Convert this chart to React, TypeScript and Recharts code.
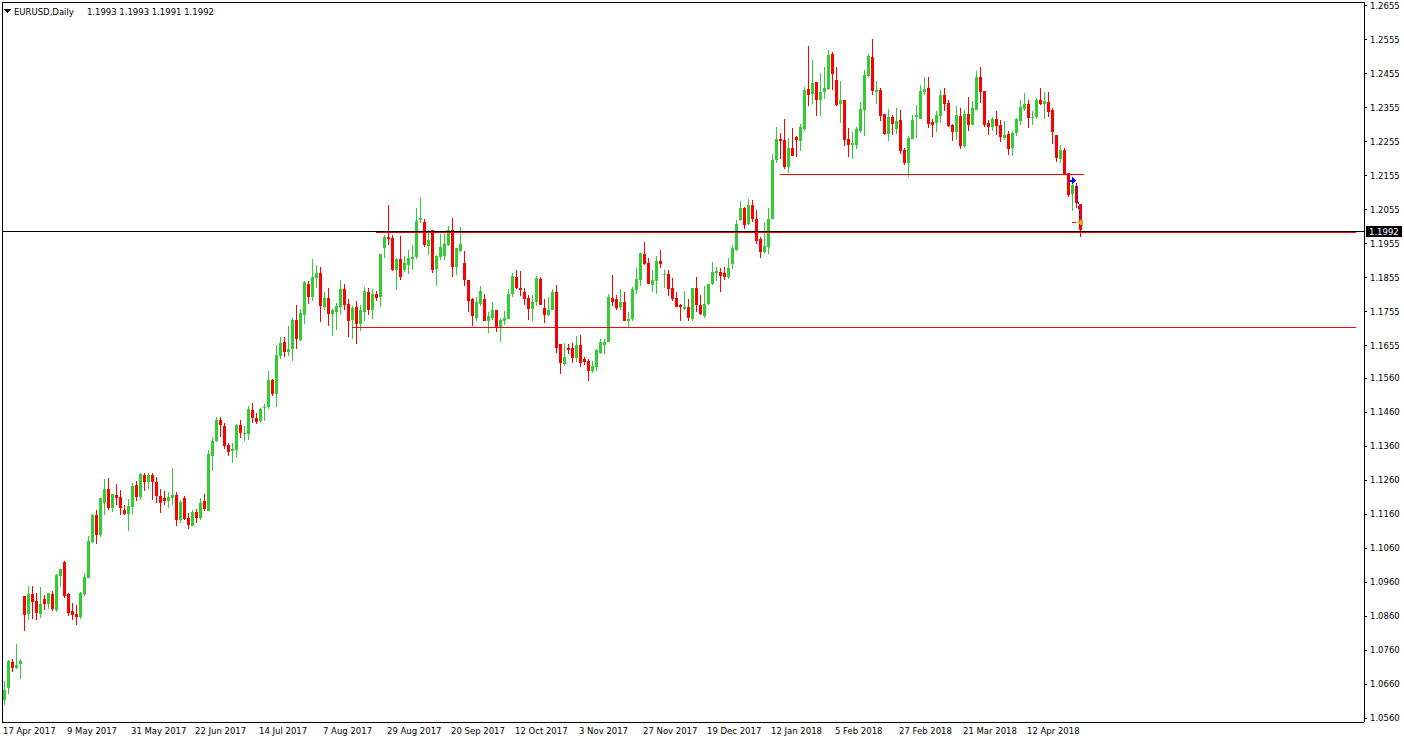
import { ComposedChart, Bar, XAxis, YAxis, ReferenceLine, ReferenceDot } from "recharts"

// open, high, low, close
type Ohlc = [number, number, number, number]

const apr2017: Ohlc[] = [
  [1.0612, 1.0668, 1.0597, 1.0641], [1.0647, 1.0732, 1.0632, 1.0729], [1.0726, 1.0735, 1.0694, 1.0706],
  [1.0706, 1.0777, 1.0703, 1.0715], [1.0718, 1.0735, 1.0676, 1.0729], [1.0918, 1.0918, 1.0815, 1.0862],
  [1.0865, 1.0947, 1.0847, 1.0924], [1.0924, 1.0947, 1.0850, 1.0900], [1.0903, 1.0929, 1.0847, 1.0868],
  [1.0865, 1.0944, 1.0853, 1.0894],
]
const may2017: Ohlc[] = [
  [1.0909, 1.0921, 1.0879, 1.0894], [1.0894, 1.0929, 1.0882, 1.0929], [1.0926, 1.0935, 1.0876, 1.0882],
  [1.0879, 1.0985, 1.0871, 1.0982], [1.0979, 1.0997, 1.0944, 1.0997], [1.1018, 1.1021, 1.0912, 1.0918],
  [1.0924, 1.0929, 1.0859, 1.0868], [1.0874, 1.0897, 1.0847, 1.0862], [1.0865, 1.0891, 1.0835, 1.0856],
  [1.0856, 1.0932, 1.0850, 1.0929], [1.0926, 1.0988, 1.0918, 1.0974], [1.0971, 1.1094, 1.0971, 1.1082],
  [1.1079, 1.1159, 1.1076, 1.1156], [1.1156, 1.1171, 1.1071, 1.1097], [1.1097, 1.1206, 1.1091, 1.1206],
  [1.1191, 1.1262, 1.1156, 1.1235], [1.1235, 1.1265, 1.1171, 1.1179], [1.1179, 1.1218, 1.1165, 1.1218],
  [1.1215, 1.1247, 1.1188, 1.1206], [1.1209, 1.1232, 1.1156, 1.1179], [1.1171, 1.1188, 1.1156, 1.1159],
  [1.1159, 1.1203, 1.1109, 1.1185], [1.1182, 1.1250, 1.1159, 1.1241],
]
const jun2017: Ohlc[] = [
  [1.1244, 1.1256, 1.1197, 1.1209], [1.1209, 1.1282, 1.1200, 1.1279], [1.1274, 1.1282, 1.1229, 1.1253],
  [1.1253, 1.1282, 1.1235, 1.1276], [1.1276, 1.1282, 1.1200, 1.1253], [1.1253, 1.1268, 1.1191, 1.1212],
  [1.1212, 1.1235, 1.1162, 1.1191], [1.1206, 1.1229, 1.1188, 1.1197], [1.1197, 1.1224, 1.1179, 1.1209],
  [1.1206, 1.1294, 1.1188, 1.1215], [1.1215, 1.1226, 1.1126, 1.1141], [1.1141, 1.1200, 1.1135, 1.1194],
  [1.1206, 1.1212, 1.1141, 1.1144], [1.1147, 1.1162, 1.1115, 1.1129], [1.1126, 1.1171, 1.1124, 1.1165],
  [1.1165, 1.1176, 1.1135, 1.1147], [1.1147, 1.1206, 1.1141, 1.1191], [1.1197, 1.1218, 1.1168, 1.1176],
  [1.1168, 1.1347, 1.1168, 1.1338], [1.1332, 1.1388, 1.1288, 1.1376], [1.1374, 1.1444, 1.1371, 1.1438],
  [1.1438, 1.1444, 1.1388, 1.1421],
]
const jul2017: Ohlc[] = [
  [1.1418, 1.1427, 1.1350, 1.1359], [1.1362, 1.1368, 1.1332, 1.1341], [1.1344, 1.1368, 1.1309, 1.1350],
  [1.1347, 1.1424, 1.1326, 1.1421], [1.1421, 1.1438, 1.1385, 1.1397], [1.1395, 1.1418, 1.1376, 1.1397],
  [1.1394, 1.1479, 1.1379, 1.1468], [1.1465, 1.1488, 1.1429, 1.1441], [1.1441, 1.1456, 1.1424, 1.1432],
  [1.1435, 1.1471, 1.1429, 1.1468], [1.1471, 1.1485, 1.1435, 1.1476], [1.1474, 1.1582, 1.1468, 1.1553],
  [1.1553, 1.1556, 1.1506, 1.1512], [1.1512, 1.1656, 1.1474, 1.1629], [1.1626, 1.1682, 1.1615, 1.1662],
  [1.1665, 1.1682, 1.1621, 1.1638], [1.1638, 1.1712, 1.1626, 1.1644], [1.1644, 1.1738, 1.1609, 1.1732],
  [1.1732, 1.1776, 1.1644, 1.1674], [1.1671, 1.1762, 1.1668, 1.1750], [1.1744, 1.1844, 1.1718, 1.1841],
]
const aug2017: Ohlc[] = [
  [1.1838, 1.1844, 1.1779, 1.1797], [1.1797, 1.1909, 1.1788, 1.1856], [1.1853, 1.1891, 1.1826, 1.1868],
  [1.1868, 1.1888, 1.1724, 1.1771], [1.1768, 1.1812, 1.1759, 1.1794], [1.1794, 1.1824, 1.1712, 1.1747],
  [1.1747, 1.1762, 1.1685, 1.1759], [1.1753, 1.1782, 1.1700, 1.1771], [1.1768, 1.1847, 1.1744, 1.1821],
  [1.1821, 1.1838, 1.1759, 1.1776], [1.1779, 1.1791, 1.1682, 1.1729], [1.1732, 1.1771, 1.1676, 1.1765],
  [1.1768, 1.1788, 1.1659, 1.1718], [1.1718, 1.1774, 1.1697, 1.1759], [1.1753, 1.1827, 1.1727, 1.1815],
  [1.1812, 1.1824, 1.1744, 1.1759], [1.1759, 1.1821, 1.1735, 1.1806], [1.1806, 1.1815, 1.1788, 1.1794],
  [1.1797, 1.1926, 1.1768, 1.1924], [1.1941, 1.1982, 1.1912, 1.1976], [1.1976, 1.2068, 1.1950, 1.1968],
  [1.1971, 1.1982, 1.1876, 1.1879], [1.1879, 1.1912, 1.1818, 1.1909],
]
const sep2017: Ohlc[] = [
  [1.1909, 1.1979, 1.1847, 1.1856], [1.1879, 1.1918, 1.1871, 1.1897], [1.1891, 1.1938, 1.1865, 1.1912],
  [1.1909, 1.1950, 1.1879, 1.1915], [1.1915, 1.2059, 1.1909, 1.2021], [1.2024, 1.2091, 1.2015, 1.2032],
  [1.2018, 1.2029, 1.1944, 1.1950], [1.1947, 1.1994, 1.1921, 1.1965], [1.1994, 1.1994, 1.1868, 1.1879],
  [1.1882, 1.1921, 1.1832, 1.1918], [1.1915, 1.1985, 1.1906, 1.1944], [1.1918, 1.1985, 1.1906, 1.1953],
  [1.1950, 1.2006, 1.1947, 1.1994], [1.1994, 1.2032, 1.1856, 1.1888], [1.1888, 1.1941, 1.1862, 1.1941],
  [1.1935, 1.2003, 1.1932, 1.1953], [1.1897, 1.1935, 1.1832, 1.1847], [1.1847, 1.1847, 1.1753, 1.1788],
  [1.1791, 1.1794, 1.1712, 1.1741], [1.1738, 1.1797, 1.1727, 1.1785], [1.1779, 1.1832, 1.1771, 1.1815],
]
const oct2017: Ohlc[] = [
  [1.1791, 1.1806, 1.1727, 1.1729], [1.1727, 1.1753, 1.1691, 1.1741], [1.1738, 1.1785, 1.1732, 1.1759],
  [1.1759, 1.1759, 1.1694, 1.1706], [1.1709, 1.1738, 1.1665, 1.1732], [1.1727, 1.1756, 1.1715, 1.1738],
  [1.1735, 1.1821, 1.1735, 1.1806], [1.1806, 1.1868, 1.1797, 1.1859], [1.1856, 1.1879, 1.1821, 1.1826],
  [1.1826, 1.1874, 1.1800, 1.1818], [1.1812, 1.1824, 1.1776, 1.1791], [1.1794, 1.1803, 1.1732, 1.1762],
  [1.1762, 1.1803, 1.1727, 1.1785], [1.1785, 1.1859, 1.1771, 1.1853], [1.1850, 1.1856, 1.1774, 1.1776],
  [1.1765, 1.1791, 1.1721, 1.1744], [1.1744, 1.1797, 1.1741, 1.1759], [1.1759, 1.1821, 1.1759, 1.1812],
  [1.1812, 1.1835, 1.1635, 1.1647], [1.1659, 1.1659, 1.1571, 1.1603], [1.1600, 1.1662, 1.1594, 1.1621],
  [1.1647, 1.1659, 1.1632, 1.1641],
]
const nov2017: Ohlc[] = [
  [1.1647, 1.1662, 1.1603, 1.1618], [1.1618, 1.1685, 1.1606, 1.1656], [1.1656, 1.1688, 1.1591, 1.1603],
  [1.1615, 1.1621, 1.1597, 1.1606], [1.1609, 1.1615, 1.1550, 1.1582], [1.1582, 1.1609, 1.1574, 1.1594],
  [1.1591, 1.1644, 1.1582, 1.1641], [1.1635, 1.1676, 1.1632, 1.1665], [1.1656, 1.1674, 1.1632, 1.1665],
  [1.1665, 1.1806, 1.1665, 1.1797], [1.1794, 1.1862, 1.1771, 1.1785], [1.1791, 1.1803, 1.1759, 1.1765],
  [1.1768, 1.1821, 1.1759, 1.1785], [1.1785, 1.1812, 1.1729, 1.1729], [1.1729, 1.1753, 1.1709, 1.1735],
  [1.1735, 1.1829, 1.1729, 1.1821], [1.1818, 1.1885, 1.1806, 1.1850], [1.1847, 1.1929, 1.1832, 1.1929],
  [1.1926, 1.1959, 1.1891, 1.1894], [1.1897, 1.1912, 1.1838, 1.1838], [1.1835, 1.1877, 1.1812, 1.1847],
  [1.1844, 1.1918, 1.1806, 1.1903],
]
const dec2017: Ohlc[] = [
  [1.1903, 1.1938, 1.1885, 1.1894], [1.1862, 1.1877, 1.1826, 1.1865], [1.1865, 1.1879, 1.1800, 1.1821],
  [1.1826, 1.1853, 1.1788, 1.1791], [1.1794, 1.1812, 1.1768, 1.1768], [1.1774, 1.1779, 1.1727, 1.1768],
  [1.1762, 1.1815, 1.1759, 1.1768], [1.1768, 1.1791, 1.1729, 1.1738], [1.1735, 1.1824, 1.1729, 1.1824],
  [1.1826, 1.1856, 1.1753, 1.1774], [1.1776, 1.1803, 1.1744, 1.1747], [1.1741, 1.1832, 1.1738, 1.1779],
  [1.1779, 1.1838, 1.1776, 1.1838], [1.1838, 1.1900, 1.1835, 1.1871], [1.1868, 1.1888, 1.1844, 1.1874],
  [1.1871, 1.1885, 1.1812, 1.1859], [1.1868, 1.1888, 1.1847, 1.1856], [1.1856, 1.1912, 1.1850, 1.1885],
  [1.1894, 1.1950, 1.1882, 1.1941], [1.1938, 1.2024, 1.1935, 1.2012],
]
const jan2018: Ohlc[] = [
  [1.2024, 1.2080, 1.2021, 1.2059], [1.2059, 1.2062, 1.1997, 1.2009], [1.2012, 1.2088, 1.2009, 1.2068],
  [1.2068, 1.2085, 1.2018, 1.2027], [1.2027, 1.2053, 1.1953, 1.1962], [1.1968, 1.1976, 1.1912, 1.1932],
  [1.1932, 1.2018, 1.1929, 1.1947], [1.1944, 1.2059, 1.1924, 1.2029], [1.2029, 1.2218, 1.2029, 1.2200],
  [1.2200, 1.2297, 1.2191, 1.2262], [1.2262, 1.2282, 1.2203, 1.2256], [1.2259, 1.2321, 1.2174, 1.2182],
  [1.2182, 1.2265, 1.2162, 1.2238], [1.2238, 1.2294, 1.2212, 1.2212], [1.2268, 1.2271, 1.2209, 1.2259],
  [1.2256, 1.2306, 1.2229, 1.2297], [1.2291, 1.2415, 1.2288, 1.2406], [1.2409, 1.2538, 1.2359, 1.2391],
  [1.2394, 1.2494, 1.2365, 1.2427], [1.2430, 1.2432, 1.2332, 1.2379], [1.2379, 1.2456, 1.2332, 1.2400],
  [1.2400, 1.2474, 1.2382, 1.2412],
]
const feb2018: Ohlc[] = [
  [1.2409, 1.2524, 1.2406, 1.2509], [1.2512, 1.2518, 1.2406, 1.2453], [1.2438, 1.2474, 1.2359, 1.2362],
  [1.2365, 1.2435, 1.2309, 1.2377], [1.2377, 1.2377, 1.2241, 1.2259], [1.2262, 1.2294, 1.2209, 1.2244],
  [1.2244, 1.2285, 1.2203, 1.2250], [1.2244, 1.2297, 1.2235, 1.2291], [1.2288, 1.2371, 1.2282, 1.2350],
  [1.2347, 1.2465, 1.2271, 1.2450], [1.2447, 1.2512, 1.2444, 1.2506], [1.2503, 1.2556, 1.2391, 1.2403],
  [1.2400, 1.2435, 1.2365, 1.2406], [1.2406, 1.2412, 1.2315, 1.2332], [1.2338, 1.2338, 1.2276, 1.2279],
  [1.2279, 1.2350, 1.2256, 1.2329], [1.2329, 1.2335, 1.2276, 1.2306], [1.2291, 1.2353, 1.2279, 1.2315],
  [1.2318, 1.2347, 1.2218, 1.2229], [1.2232, 1.2238, 1.2188, 1.2191],
]
const mar2018: Ohlc[] = [
  [1.2191, 1.2271, 1.2150, 1.2265], [1.2262, 1.2335, 1.2262, 1.2318], [1.2329, 1.2362, 1.2265, 1.2335],
  [1.2323, 1.2421, 1.2323, 1.2403], [1.2400, 1.2444, 1.2391, 1.2409], [1.2412, 1.2444, 1.2294, 1.2306],
  [1.2312, 1.2321, 1.2268, 1.2303], [1.2309, 1.2344, 1.2285, 1.2335], [1.2332, 1.2406, 1.2309, 1.2391],
  [1.2391, 1.2412, 1.2344, 1.2365], [1.2368, 1.2379, 1.2297, 1.2300], [1.2303, 1.2306, 1.2256, 1.2285],
  [1.2285, 1.2359, 1.2259, 1.2335], [1.2332, 1.2353, 1.2235, 1.2241], [1.2241, 1.2347, 1.2238, 1.2338],
  [1.2338, 1.2388, 1.2288, 1.2303], [1.2303, 1.2374, 1.2303, 1.2353], [1.2347, 1.2462, 1.2347, 1.2444],
  [1.2444, 1.2476, 1.2368, 1.2400], [1.2403, 1.2403, 1.2297, 1.2303], [1.2309, 1.2318, 1.2276, 1.2297],
  [1.2297, 1.2329, 1.2288, 1.2321],
]
const apr2018: Ohlc[] = [
  [1.2321, 1.2344, 1.2276, 1.2300], [1.2303, 1.2318, 1.2253, 1.2268], [1.2265, 1.2315, 1.2259, 1.2276],
  [1.2279, 1.2288, 1.2215, 1.2235], [1.2238, 1.2288, 1.2212, 1.2282], [1.2282, 1.2324, 1.2271, 1.2321],
  [1.2315, 1.2377, 1.2303, 1.2356], [1.2350, 1.2397, 1.2344, 1.2365], [1.2365, 1.2377, 1.2294, 1.2324],
  [1.2324, 1.2344, 1.2303, 1.2329], [1.2329, 1.2385, 1.2321, 1.2379], [1.2379, 1.2412, 1.2362, 1.2365],
  [1.2365, 1.2400, 1.2321, 1.2374], [1.2371, 1.2400, 1.2329, 1.2341], [1.2347, 1.2353, 1.2247, 1.2285],
  [1.2274, 1.2274, 1.2194, 1.2206], [1.2203, 1.2244, 1.2191, 1.2232], [1.2232, 1.2238, 1.2159, 1.2159],
  [1.2162, 1.2162, 1.2091, 1.2097], [1.2100, 1.2132, 1.2050, 1.2127], [1.2124, 1.2135, 1.2059, 1.2074],
]
const may2018: Ohlc[] = [
  [1.2071, 1.2071, 1.1976, 1.1994], [1.1993, 1.1993, 1.1991, 1.1992],
]

const candles: Ohlc[] = [
  ...apr2017, ...may2017, ...jun2017, ...jul2017, ...aug2017, ...sep2017, ...oct2017,
  ...nov2017, ...dec2017, ...jan2018, ...feb2018, ...mar2018, ...apr2018, ...may2018,
]

// one label every 16 bars
const dateLabels = [
  "17 Apr 2017", "9 May 2017", "31 May 2017", "22 Jun 2017", "14 Jul 2017", "7 Aug 2017",
  "29 Aug 2017", "20 Sep 2017", "12 Oct 2017", "3 Nov 2017", "27 Nov 2017", "19 Dec 2017",
  "12 Jan 2018", "5 Feb 2018", "27 Feb 2018", "21 Mar 2018", "12 Apr 2018",
]

const priceTicks = [
  1.2655, 1.2555, 1.2455, 1.2355, 1.2255, 1.2155, 1.2055, 1.1955, 1.1855, 1.1755, 1.1655,
  1.156, 1.146, 1.136, 1.126, 1.116, 1.106, 1.096, 1.086, 1.076, 1.066, 1.056,
]

const bid = 1.1992
const lastBar = [1.1993, 1.1993, 1.1991, 1.1992]

// horizontal lines drawn on the chart (bar index from / to)
const levels = [
  { price: 1.199, from: 93, to: 338, width: 2 },
  { price: 1.2159, from: 194, to: 270, width: 1 },
  { price: 1.1709, from: 87, to: 338, width: 1 },
]

// trade marks near the last bars
const tradeOpen = { bar: 267, price: 1.214 }
const tradeClose = { bar: 269, price: 1.2018 }

const SLOTS = 340 // visible bar slots incl. right shift
const BULL = "#32cd32"
const BEAR = "#ff0000"
const FONT = "DejaVu Sans"

const rows = Array.from({ length: SLOTS }, (_, i) => {
  const c = candles[i]
  if (!c) return { i }
  return { i, range: [c[2], c[1]], open: c[0], high: c[1], low: c[2], close: c[3] }
})

const Candle = (props: any) => {
  const { x, y, width, height, payload } = props
  if (!payload || payload.open == null) return null
  const { open, high, low, close } = payload
  const top = Math.min(y, y + height)
  const bottom = Math.max(y, y + height)
  const span = high - low || 1
  const py = (v: number) => top + ((high - v) / span) * (bottom - top)
  const color = close >= open ? BULL : BEAR
  const left = Math.floor(x + width / 2 - 1.5)
  const bTop = Math.round(py(Math.max(open, close)))
  const bBot = Math.max(Math.round(py(Math.min(open, close))), bTop + 1)
  const wTop = Math.round(top)
  const wBot = Math.max(Math.round(bottom), wTop + 1)
  return (
    <g>
      <rect x={left + 1} y={wTop} width={1} height={wBot - wTop} fill={color} />
      <rect x={left} y={bTop} width={3} height={bBot - bTop} fill={color} />
    </g>
  )
}

const DateTick = (props: any) => {
  const { x, y, payload } = props
  const label = dateLabels[payload.value / 16]
  if (!label) return null
  return (
    <text x={x - 1} y={y + 12} fill="#000" fontSize={8.5} fontFamily={FONT}>
      {label}
    </text>
  )
}

const PriceTag = (props: any) => {
  const { viewBox } = props
  if (!viewBox) return null
  const right = viewBox.x + viewBox.width
  const ly = viewBox.y
  return (
    <g>
      <rect x={right + 2} y={ly - 5} width={36} height={11} fill="#000" />
      <text x={right + 5} y={ly + 3.5} fill="#fff" fontSize={8.5} fontFamily={FONT}>
        {bid.toFixed(4)}
      </text>
    </g>
  )
}

const BuyArrow = ({ cx, cy }: any) => (
  <polygon
    points={`${cx - 3},${cy - 1} ${cx},${cy - 1} ${cx},${cy - 4} ${cx + 4},${cy} ${cx},${cy + 4} ${cx},${cy + 1} ${cx - 3},${cy + 1}`}
    fill="#0000ff"
  />
)

const CloseArrow = ({ cx, cy }: any) => (
  <polygon points={`${cx - 3},${cy} ${cx + 3},${cy - 4} ${cx + 3},${cy + 4}`} fill="#daa520" />
)

export default function App() {
  return (
    <div style={{ position: "absolute", left: 0, top: 0, width: 1404, height: 743, background: "#fff", shapeRendering: "crispEdges" }}>
      <ComposedChart width={1404} height={743} data={rows} margin={{ top: 2, right: 0, bottom: 0, left: 2 }} barCategoryGap={0}>
        <XAxis
          dataKey="i"
          type="category"
          interval={15}
          height={21}
          tickSize={0}
          tickMargin={0}
          padding={{ left: 0, right: 2 }}
          axisLine={{ stroke: "#000" }}
          tickLine={false}
          tick={<DateTick />}
        />
        <YAxis
          orientation="right"
          type="number"
          domain={[1.054835, 1.2666]}
          allowDataOverflow
          ticks={priceTicks}
          interval={0}
          width={40}
          tickSize={3}
          tickMargin={3}
          axisLine={{ stroke: "#000" }}
          tickLine={{ stroke: "#000" }}
          tick={{ fill: "#000", fontSize: 8.5, fontFamily: FONT }}
          tickFormatter={(v: number) => v.toFixed(4)}
        />
        <Bar dataKey="range" barSize={3} shape={Candle} isAnimationActive={false} />
        {levels.map((l) => (
          <ReferenceLine
            key={l.price}
            segment={[{ x: l.from, y: l.price }, { x: l.to, y: l.price }]}
            stroke="#ff0000"
            strokeWidth={l.width}
          />
        ))}
        <ReferenceLine y={bid} stroke="#000" label={<PriceTag />} />
        <ReferenceLine
          segment={[{ x: 268, y: 1.2125 }, { x: 269, y: 1.203 }]}
          stroke="#0000ff"
          strokeDasharray="3 2"
        />
        <ReferenceLine
          segment={[{ x: 267, y: tradeClose.price }, { x: 268, y: tradeClose.price }]}
          stroke="#ff0000"
        />
        <ReferenceDot x={tradeOpen.bar} y={tradeOpen.price} shape={BuyArrow} />
        <ReferenceDot x={tradeClose.bar} y={tradeClose.price} shape={CloseArrow} />
      </ComposedChart>
      <div style={{ position: "absolute", left: 2, top: 2, width: 1362, height: 720, borderLeft: "1px solid #000", borderTop: "1px solid #000", boxSizing: "border-box", pointerEvents: "none" }} />
      <svg style={{ position: "absolute", left: 4, top: 9 }} width={7} height={5}>
        <polygon points="0,0 7,0 3.5,4" fill="#000" />
      </svg>
      <div style={{ position: "absolute", left: 14, top: 7, fontFamily: FONT, fontSize: 8.5, lineHeight: "10px", color: "#000", whiteSpace: "pre" }}>
        EURUSD,Daily<span style={{ marginLeft: 13 }}>{lastBar.map((v) => v.toFixed(4)).join(" ")}</span>
      </div>
    </div>
  )
}
